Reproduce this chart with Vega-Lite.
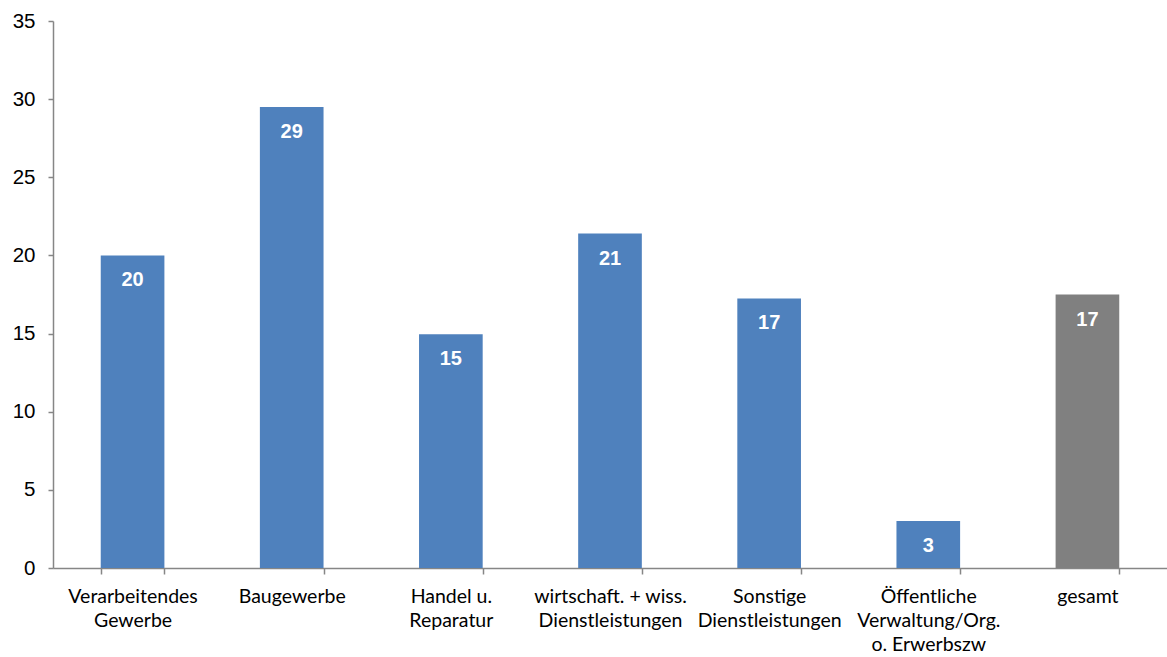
{
  "$schema": "https://vega.github.io/schema/vega-lite/v6.json",
  "autosize": "none",
  "width": 1114,
  "height": 547,
  "padding": {"left": 53, "top": 21, "right": 0, "bottom": 89},
  "background": "white",
  "config": {"view": {"stroke": null}},
  "data": {"values": [
    {"cat": "Verarbeitendes|Gewerbe", "value": 20.0, "label": "20", "grp": "branch"},
    {"cat": "Baugewerbe", "value": 29.5, "label": "29", "grp": "branch"},
    {"cat": "Handel u.|Reparatur", "value": 14.95, "label": "15", "grp": "branch"},
    {"cat": "wirtschaft. + wiss.|Dienstleistungen", "value": 21.4, "label": "21", "grp": "branch"},
    {"cat": "Sonstige|Dienstleistungen", "value": 17.25, "label": "17", "grp": "branch"},
    {"cat": "Öffentliche|Verwaltung/Org.|o. Erwerbszw", "value": 3.0, "label": "3", "grp": "branch"},
    {"cat": "gesamt", "value": 17.5, "label": "17", "grp": "total"}
  ]},
  "encoding": {
    "x": {
      "field": "cat", "type": "nominal", "sort": null,
      "scale": {"paddingInner": 0.6, "paddingOuter": 0.3},
      "axis": {
        "title": null, "labelAngle": 0,
        "labelExpr": "split(datum.label, '|')",
        "labelFont": "Lato", "labelFontSize": 19.5, "labelColor": "#000000",
        "labelLineHeight": 24, "labelPadding": 13, "labelBaseline": "top",
        "domainColor": "#868686", "domainWidth": 1.5,
        "tickColor": "#868686", "tickWidth": 1.5, "tickSize": 6,
        "tickBand": "extent", "labelLimit": 200
      }
    },
    "y": {
      "field": "value", "type": "quantitative",
      "scale": {"domain": [0, 35], "nice": false},
      "axis": {
        "title": null, "values": [0, 5, 10, 15, 20, 25, 30, 35], "grid": false,
        "labelFont": "Liberation Sans", "labelFontSize": 20.5, "labelColor": "#000000",
        "labelPadding": 13,
        "domainColor": "#868686", "domainWidth": 1.5,
        "tickColor": "#868686", "tickWidth": 1.5, "tickSize": 5
      }
    }
  },
  "layer": [
    {
      "mark": {"type": "bar"},
      "encoding": {
        "color": {
          "field": "grp", "type": "nominal",
          "scale": {"domain": ["branch", "total"], "range": ["#4F81BD", "#808080"]},
          "legend": null
        }
      }
    },
    {
      "mark": {"type": "text", "baseline": "middle", "dy": 25, "font": "Liberation Sans", "fontSize": 20, "fontWeight": "bold", "color": "white"},
      "encoding": {"text": {"field": "label"}}
    }
  ]
}
